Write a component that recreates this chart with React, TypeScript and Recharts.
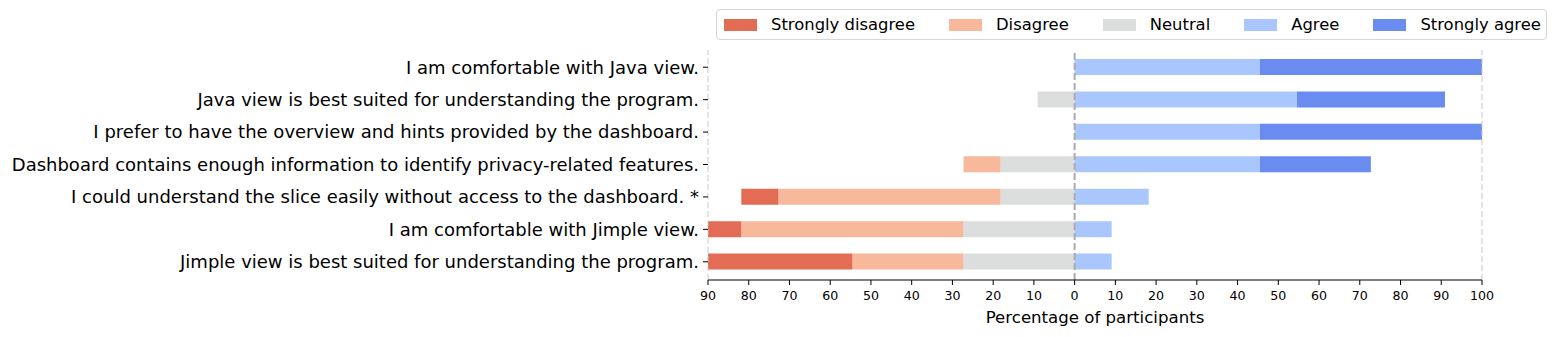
import { BarChart, Bar, XAxis, YAxis, ReferenceLine, Legend } from "recharts";

// survey statements, top to bottom
const statements = [
  "I am comfortable with Java view.",
  "Java view is best suited for understanding the program.",
  "I prefer to have the overview and hints provided by the dashboard.",
  "Dashboard contains enough information to identify privacy-related features.",
  "I could understand the slice easily without access to the dashboard. *",
  "I am comfortable with Jimple view.",
  "Jimple view is best suited for understanding the program.",
];

// percentage of participants per answer (11 participants)
const stronglyDisagree = [0, 0, 0, 0, 9.09, 9.09, 36.36];
const disagree = [0, 0, 0, 9.09, 54.55, 54.55, 27.27];
const neutral = [0, 9.09, 0, 18.18, 18.18, 27.27, 27.27];
const agree = [45.45, 54.55, 45.45, 45.45, 18.18, 9.09, 9.09];
const stronglyAgree = [54.55, 36.36, 54.55, 27.27, 0, 0, 0];

const xTicks = [-90, -80, -70, -60, -50, -40, -30, -20, -10, 0, 10, 20, 30, 40, 50, 60, 70, 80, 90, 100];

const legendItems = [
  { name: "Strongly disagree", color: "#e36c55" },
  { name: "Disagree", color: "#f7b89c" },
  { name: "Neutral", color: "#dcdddd" },
  { name: "Agree", color: "#aac7fd" },
  { name: "Strongly agree", color: "#6a8bef" },
];

function LegendBox() {
  return (
    <div
      style={{
        display: "flex",
        alignItems: "center",
        height: 31,
        boxSizing: "border-box",
        border: "1px solid #d6d6d6",
        borderRadius: 4,
        padding: "0 5px 0 7px",
        background: "#fff",
        fontSize: 16.4,
        color: "#000",
        whiteSpace: "nowrap",
      }}
    >
      {legendItems.map((item, i) => (
        <div key={item.name} style={{ display: "flex", alignItems: "center", marginLeft: i === 0 ? 0 : 34 }}>
          <span style={{ display: "inline-block", width: 33, height: 12, background: item.color, marginRight: 14 }} />
          <span>{item.name}</span>
        </div>
      ))}
    </div>
  );
}

export default function App() {
  const data = statements.map((statement, i) => ({
    statement,
    stronglyDisagree: -stronglyDisagree[i],
    disagree: -disagree[i],
    neutral: -neutral[i],
    agree: agree[i],
    stronglyAgree: stronglyAgree[i],
  }));

  return (
    <div style={{ fontFamily: '"DejaVu Sans", sans-serif' }}>
      <BarChart
        width={1550}
        height={329}
        data={data}
        layout="vertical"
        stackOffset="sign"
        barSize={16}
        margin={{ top: 42, right: 76, bottom: 12, left: 0 }}
      >
        <XAxis
          type="number"
          domain={[-90, 100]}
          ticks={xTicks}
          allowDataOverflow
          tickFormatter={(v: number) => String(Math.abs(v))}
          axisLine={{ stroke: "#000" }}
          tickLine={{ stroke: "#000" }}
          tickSize={5}
          tickMargin={6}
          tick={{ fill: "#000", fontSize: 12.6 }}
          height={45}
          label={{ value: "Percentage of participants", position: "insideBottom", offset: 2, fill: "#000", fontSize: 16.6 }}
        />
        <YAxis
          type="category"
          dataKey="statement"
          width={700}
          interval={0}
          axisLine={false}
          tickLine={{ stroke: "#000" }}
          tickSize={5}
          tickMargin={4}
          tick={{ fill: "#000", fontSize: 18 }}
          padding={{ top: 1, bottom: 2 }}
        />
        <ReferenceLine x={-90} stroke="#c8c8c8" strokeDasharray="6 3" />
        <ReferenceLine x={100} stroke="#c8c8c8" strokeDasharray="6 3" />
        <Bar dataKey="neutral" stackId="a" fill="#dcdddd" isAnimationActive={false} />
        <Bar dataKey="disagree" stackId="a" fill="#f7b89c" isAnimationActive={false} />
        <Bar dataKey="stronglyDisagree" stackId="a" fill="#e36c55" isAnimationActive={false} />
        <Bar dataKey="agree" stackId="a" fill="#aac7fd" isAnimationActive={false} />
        <Bar dataKey="stronglyAgree" stackId="a" fill="#6a8bef" isAnimationActive={false} />
        <ReferenceLine x={0} stroke="#ababab" strokeWidth={2} strokeDasharray="7 3" />
        <Legend
          layout="horizontal"
          verticalAlign="middle"
          align="center"
          wrapperStyle={{ top: 1, left: 708, width: "auto", height: "auto" }}
          content={() => <LegendBox />}
        />
      </BarChart>
    </div>
  );
}
